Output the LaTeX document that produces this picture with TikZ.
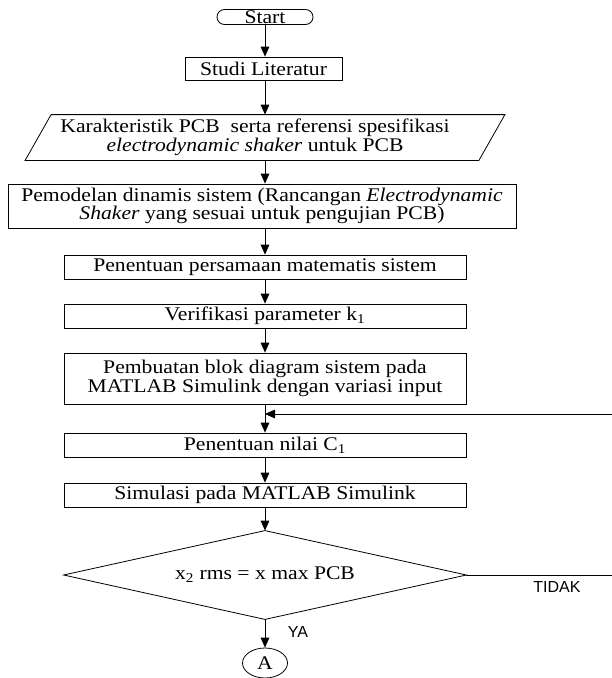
\documentclass[tikz,border=0pt]{standalone}
\usepackage{fontspec}
\setmainfont{Liberation Serif}[FakeStretch=1.12]
\newfontfamily\labelfont{Liberation Sans}
\usetikzlibrary{arrows.meta,shapes.geometric}

\begin{document}
\begin{tikzpicture}[x=0.75pt, y=-0.75pt,
    >={Triangle[length=7.5pt,width=6.5pt]},
    line width=0.6pt,
    font=\fontsize{14.5}{14}\selectfont,
    box/.style={draw, rectangle, inner sep=0pt, align=center,
        minimum width=301.5pt, minimum height=18pt},
    terminal/.style={draw, rectangle, rounded corners=5.6pt, inner sep=0pt,
        minimum width=72pt, minimum height=11.25pt},
    io/.style={inner sep=0pt, align=center, minimum width=339.75pt, minimum height=33.75pt},
    decision/.style={inner sep=0pt, minimum width=301.5pt, minimum height=66pt},
    connector/.style={draw, ellipse, inner sep=0pt, minimum width=33.75pt, minimum height=22.5pt},
    lbl/.style={font=\labelfont\fontsize{12}{12}\selectfont, inner sep=0pt}]

    % --- 画布范围 ---
    \useasboundingbox (0,0) rectangle (611,678);

    % --- 流程节点 ---
    \node[terminal] (start) at (265,17) {Start};
    \node[box, minimum width=117.75pt, minimum height=17.25pt] (studi) at (263.5,68.5) {Studi Literatur};
    \node[io] (karakteristik) at (255,137.5)
        {Karakteristik PCB\ \ serta referensi spesifikasi\\ \textit{electrodynamic shaker} untuk PCB};
    % 平行四边形 (输入/输出)，外框中心在 x=265
    \draw ([xshift=17.25pt]karakteristik.north west) -- ([xshift=17.25pt]karakteristik.north east)
        -- ([xshift=-2.25pt]karakteristik.south east) -- ([xshift=-2.25pt]karakteristik.south west) -- cycle;
    \node[box, minimum width=381pt, minimum height=33pt] (pemodelan) at (262,206)
        {Pemodelan dinamis sistem (Rancangan \textit{Electrodynamic}\\ \textit{Shaker} yang sesuai untuk pengujian PCB)};
    \node[box] (persamaan) at (265,267) {Penentuan persamaan matematis sistem};
    \node[box] (verifikasi) at (265,316) {Verifikasi parameter k\textsubscript{1}};
    \node[box, minimum height=38.25pt] (pembuatan) at (265,378.5)
        {Pembuatan blok diagram sistem pada\\ MATLAB Simulink dengan variasi input};
    \node[box] (nilai) at (265,445) {Penentuan nilai C\textsubscript{1}};
    \node[box] (simulasi) at (265,495) {Simulasi pada MATLAB Simulink};
    \node[decision] (cek) at (265,575) {x\textsubscript{2} rms = x max PCB};
    % 菱形 (判断)
    \draw (cek.north) -- (cek.east) -- (cek.south) -- (cek.west) -- cycle;
    \node[connector] (A) at (265,663) {A};

    % --- 箭头 ---
    \draw[->] (start) -- (studi.north -| start);
    \draw[->] (studi.south -| start) -- (karakteristik.north -| start);
    \draw[->] (karakteristik.south -| start) -- (pemodelan.north -| start);
    \draw[->] (pemodelan.south -| start) -- (persamaan);
    \draw[->] (persamaan) -- (verifikasi);
    \draw[->] (verifikasi) -- (pembuatan);
    \draw[->] (pembuatan) -- (nilai);
    \draw[->] (nilai) -- (simulasi);
    \draw[->] (simulasi) -- (cek.north);
    \draw[->] (cek.south) -- (A);

    % --- 回路: 不满足条件时返回 ---
    \coordinate (merge) at (pembuatan.south |- 0,414);
    \coordinate (loopbottom) at (614,575);
    \coordinate (looptop) at (614,414);
    \draw (cek.east) -- (loopbottom) -- (looptop);
    \draw[->] (looptop) -- (merge);

    % --- 标签 ---
    \node[lbl] (tidak) at (557,587) {TIDAK};
    \node[lbl] (ya) at (298,632) {YA};

\end{tikzpicture}
\end{document}
